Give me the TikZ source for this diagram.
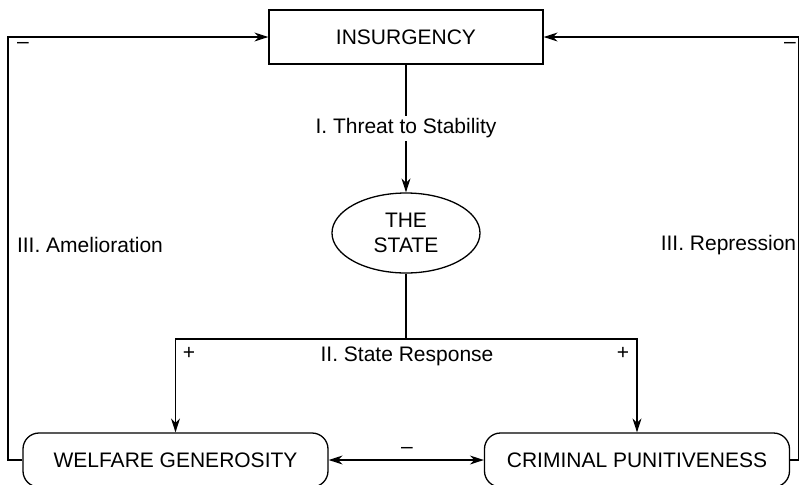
\documentclass[tikz,border=0pt]{standalone}
\usepackage{fontspec}
\setmainfont{Liberation Sans}
\usetikzlibrary{arrows.meta,shapes.geometric}

\begin{document}
\begin{tikzpicture}[x=0.5pt,y=-0.5pt,line width=0.65pt,
	every node/.style={font=\fontsize{10.5}{12.5}\selectfont},
	>={Stealth[length=7pt,width=4.5pt,inset=2.2pt]},
	roundbox/.style={draw=black,rounded corners=8pt,minimum width=152.5pt,minimum height=27pt}]
	
	\useasboundingbox (0,0) rectangle (800,484);
	
	\node[draw=black,minimum width=137pt,minimum height=27pt] (ins) at (406,37) {INSURGENCY};
	\node[shape=ellipse,draw=black,minimum width=74pt,minimum height=40pt,inner sep=0pt,align=center] (state) at (406,233) {THE\\STATE};
	
	\node[roundbox] (wel) at (175.5,460) {WELFARE GENEROSITY};
	\node[roundbox] (crim) at (637,460) {CRIMINAL PUNITIVENESS};
	
	\coordinate (lb) at (8,460);
	\coordinate (rb) at (798.5,460);
	\coordinate (split) at (406,339);
	
	\draw[->] (ins) -- node[fill=white,inner sep=1.5pt] (threat) {I. Threat to Stability} (state);
	\draw (state) -- (split);
	\draw[->] (split) -| (wel);
	\draw[->] (split) -| (crim);
	\draw[<->] (wel) -- (crim);
	\draw[->] (wel) -- (lb) |- (ins);
	\draw[->] (crim) -- (rb) |- (ins);
	
	\node (resp) at (407,356) {II. State Response};
	\node (plusl) at (189,353) {+};
	\node (plusr) at (623,353) {+};
	\node (negm) at (407,450) {--};
	\node (negl) at (23,45) {--};
	\node (negr) at (790,45) {--};
	\node (amel) at (90,245) {III. Amelioration};
	\node (repr) at (728.5,245) {III. Repression};

\end{tikzpicture}
\end{document}
